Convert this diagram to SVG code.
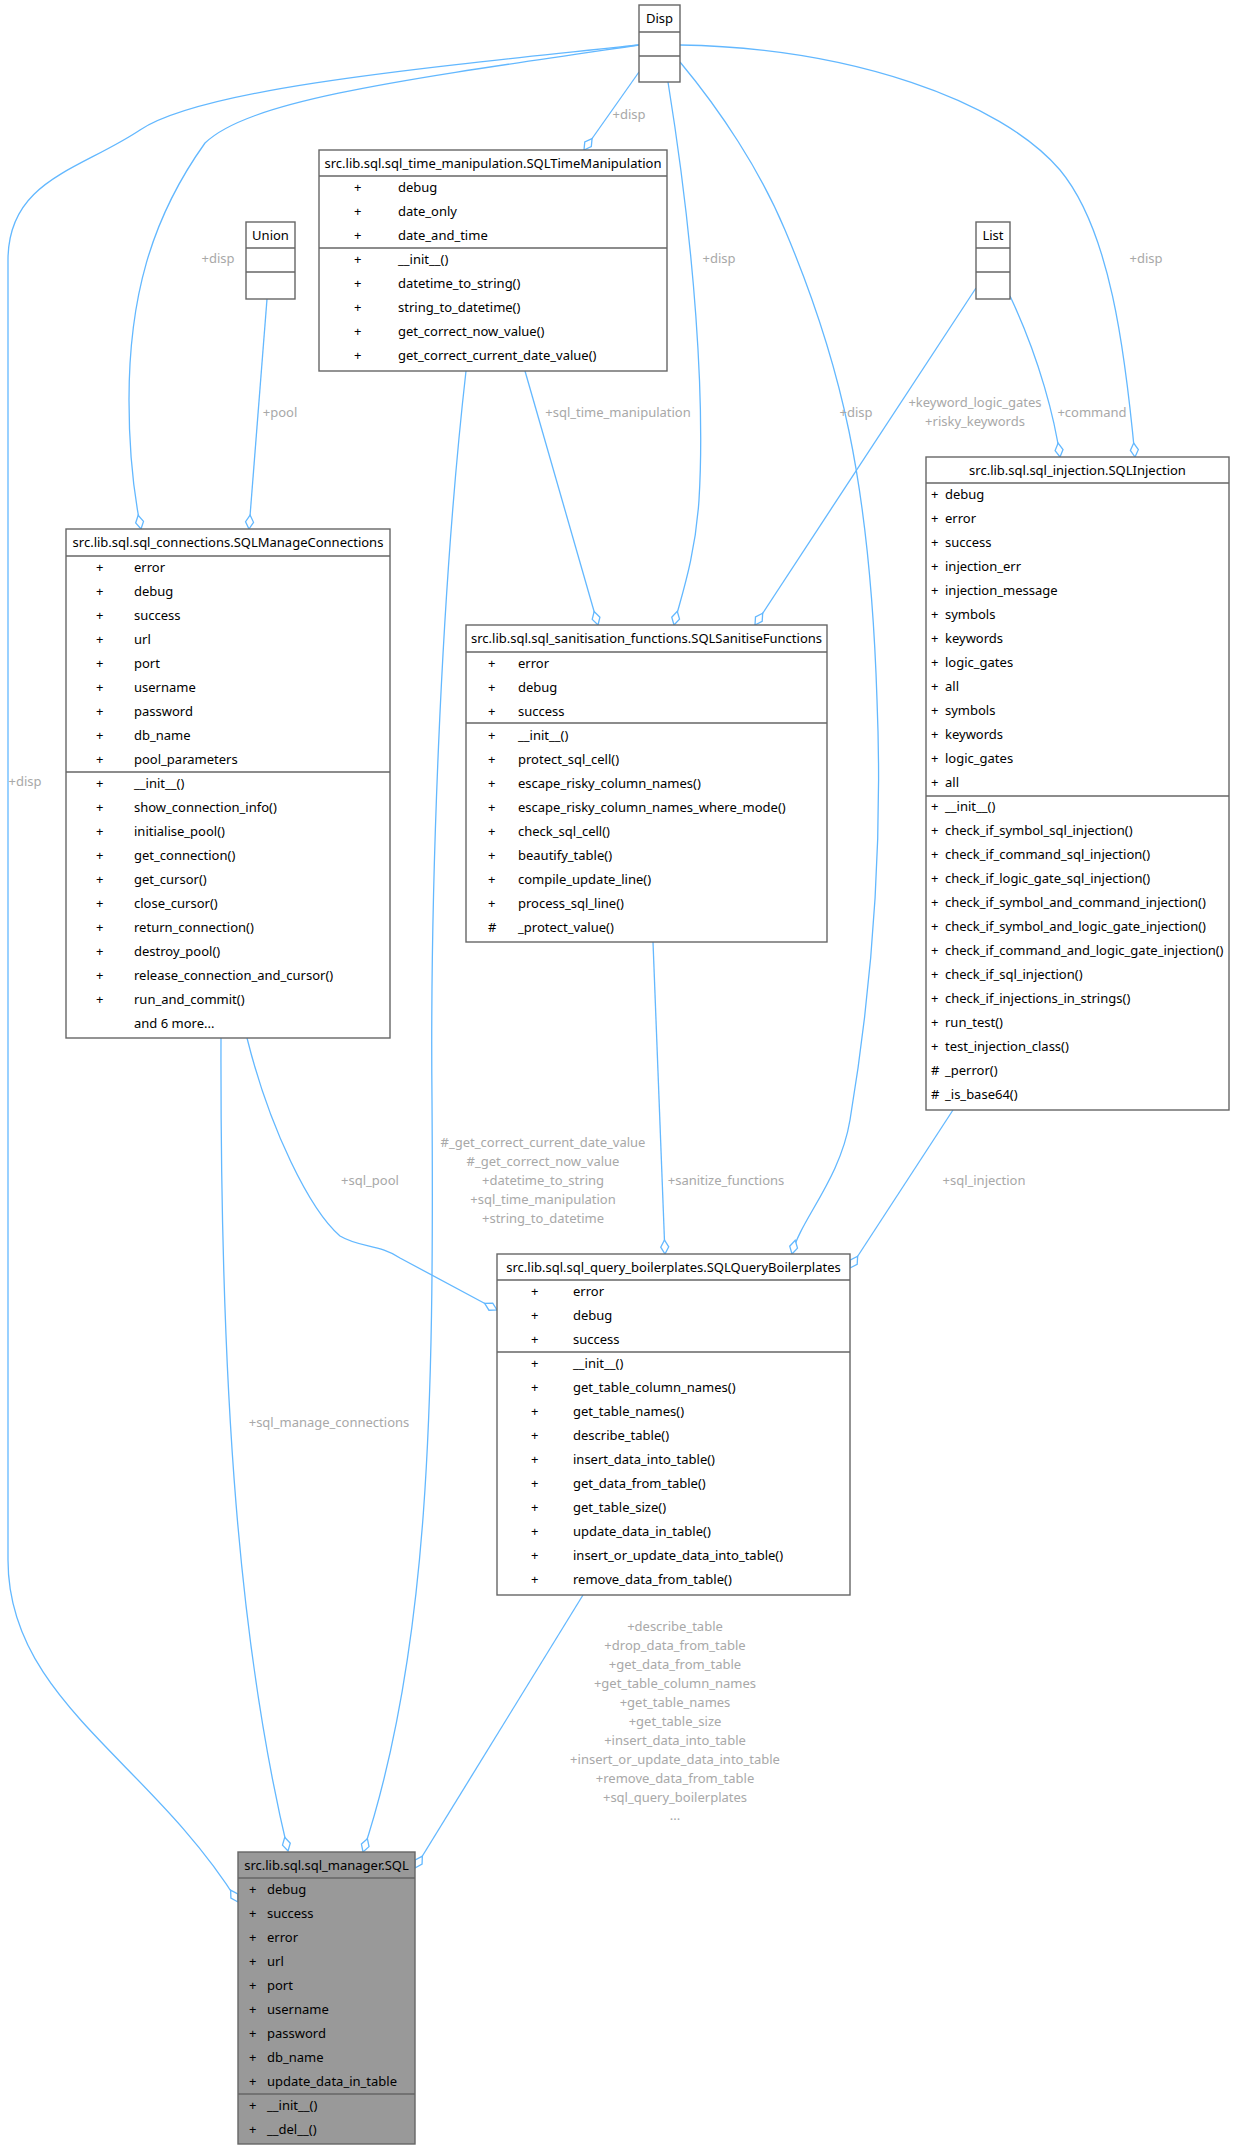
<svg xmlns="http://www.w3.org/2000/svg" width="1234" height="2150" viewBox="0 0 1234 2150">
<style>
.box{fill:#fff;stroke:#666;stroke-width:1.4}
.sql{fill:#999;stroke:#666;stroke-width:1.4}
.sep{stroke:#666;stroke-width:1.4}
text{font-family:"Noto Sans","DejaVu Sans",sans-serif;font-size:13px;fill:#000}
.t{text-anchor:middle}
.e{fill:none;stroke:#63b8ff;stroke-width:1.3;marker-end:url(#dia)}
.l{fill:#a8a8a8;text-anchor:middle}
</style>
<defs>
<marker id="dia" viewBox="-16 -6 17 12" refX="0" refY="0" markerWidth="17" markerHeight="12" markerUnits="userSpaceOnUse" orient="auto">
<path d="M0,0 L-7,-4 L-14,0 L-7,4 Z" fill="#fff" stroke="#63b8ff" stroke-width="1.3"/>
</marker>
</defs>
<rect width="1234" height="2150" fill="#fff"/>
<g id="edges">
<path class="e" d="M639,45 C400,70 200,90 140,130 C80,170 8,180 8,260 L8,1560 C8,1700 150,1760 238,1902"/>
<path class="e" d="M639,45 C400,80 250,100 205,143 C150,220 129,300 129,400 C129,460 135,500 141,529"/>
<path class="e" d="M267,299 L249,529"/>
<path class="e" d="M639,72 L584,150"/>
<path class="e" d="M466,371 C440,600 430,900 432,1100 C434,1400 430,1650 363,1852"/>
<path class="e" d="M525,371 L598,625"/>
<path class="e" d="M668,82 C695,250 705,400 699,500 C695,560 680,600 674,625"/>
<path class="e" d="M976,288 L755,625"/>
<path class="e" d="M680,62 C720,110 760,170 785,230 C840,360 870,480 877,700 C885,900 860,1060 850,1120 C840,1180 800,1220 792,1254"/>
<path class="e" d="M1010,296 C1040,360 1055,420 1060,457"/>
<path class="e" d="M680,45 C850,48 1000,100 1060,170 C1110,230 1125,350 1135,457"/>
<path class="e" d="M247,1038 C270,1130 310,1210 340,1236 C360,1248 380,1244 400,1258 L497,1310"/>
<path class="e" d="M221,1038 C220,1400 240,1650 288,1851"/>
<path class="e" d="M653,942 L665,1254"/>
<path class="e" d="M953,1110 L850,1268"/>
<path class="e" d="M583,1595 L415,1868"/>
<text class="l" x="25" y="786">+disp</text>
<text class="l" x="218" y="263">+disp</text>
<text class="l" x="280" y="417">+pool</text>
<text class="l" x="629" y="119">+disp</text>
<text class="l" x="618" y="417">+sql_time_manipulation</text>
<text class="l" x="719" y="263">+disp</text>
<text class="l" x="975" y="407">+keyword_logic_gates</text>
<text class="l" x="975" y="426">+risky_keywords</text>
<text class="l" x="856" y="417">+disp</text>
<text class="l" x="1092" y="417">+command</text>
<text class="l" x="1146" y="263">+disp</text>
<text class="l" x="543" y="1147">#_get_correct_current_date_value</text>
<text class="l" x="543" y="1166">#_get_correct_now_value</text>
<text class="l" x="543" y="1185">+datetime_to_string</text>
<text class="l" x="543" y="1204">+sql_time_manipulation</text>
<text class="l" x="543" y="1223">+string_to_datetime</text>
<text class="l" x="370" y="1185">+sql_pool</text>
<text class="l" x="329" y="1427">+sql_manage_connections</text>
<text class="l" x="726" y="1185">+sanitize_functions</text>
<text class="l" x="984" y="1185">+sql_injection</text>
<text class="l" x="675" y="1631">+describe_table</text>
<text class="l" x="675" y="1650">+drop_data_from_table</text>
<text class="l" x="675" y="1669">+get_data_from_table</text>
<text class="l" x="675" y="1688">+get_table_column_names</text>
<text class="l" x="675" y="1707">+get_table_names</text>
<text class="l" x="675" y="1726">+get_table_size</text>
<text class="l" x="675" y="1745">+insert_data_into_table</text>
<text class="l" x="675" y="1764">+insert_or_update_data_into_table</text>
<text class="l" x="675" y="1783">+remove_data_from_table</text>
<text class="l" x="675" y="1802">+sql_query_boilerplates</text>
<text class="l" x="675" y="1820">...</text>
</g>
<g id="Disp">
<rect class="box" x="639" y="5" width="41" height="77"/>
<line class="sep" x1="639" y1="32" x2="680" y2="32"/><line class="sep" x1="639" y1="56" x2="680" y2="56"/>
<text class="t" x="659.5" y="23">Disp</text>
</g>
<g id="Union">
<rect class="box" x="246" y="222" width="49" height="77"/>
<line class="sep" x1="246" y1="248" x2="295" y2="248"/><line class="sep" x1="246" y1="272" x2="295" y2="272"/>
<text class="t" x="270.5" y="240">Union</text>
</g>
<g id="List">
<rect class="box" x="976" y="222" width="34" height="77"/>
<line class="sep" x1="976" y1="248" x2="1010" y2="248"/><line class="sep" x1="976" y1="272" x2="1010" y2="272"/>
<text class="t" x="993" y="240">List</text>
</g>
<g id="SQLTimeManipulation">
<rect class="box" x="319" y="150" width="348" height="221"/>
<line class="sep" x1="319" y1="176" x2="667" y2="176"/><line class="sep" x1="319" y1="248" x2="667" y2="248"/>
<text class="t" x="493" y="168">src.lib.sql.sql_time_manipulation.SQLTimeManipulation</text>
<g transform="translate(0,192)">
<text x="354" y="0">+</text><text x="398" y="0">debug</text>
<text x="354" y="24">+</text><text x="398" y="24">date_only</text>
<text x="354" y="48">+</text><text x="398" y="48">date_and_time</text>
<text x="354" y="72">+</text><text x="398" y="72">__init__()</text>
<text x="354" y="96">+</text><text x="398" y="96">datetime_to_string()</text>
<text x="354" y="120">+</text><text x="398" y="120">string_to_datetime()</text>
<text x="354" y="144">+</text><text x="398" y="144">get_correct_now_value()</text>
<text x="354" y="168">+</text><text x="398" y="168">get_correct_current_date_value()</text>
</g>
</g>
<g id="SQLManageConnections">
<rect class="box" x="66" y="529" width="324" height="509"/>
<line class="sep" x1="66" y1="556" x2="390" y2="556"/><line class="sep" x1="66" y1="772" x2="390" y2="772"/>
<text class="t" x="228" y="547">src.lib.sql.sql_connections.SQLManageConnections</text>
<g transform="translate(0,572)">
<text x="96" y="0">+</text><text x="134" y="0">error</text>
<text x="96" y="24">+</text><text x="134" y="24">debug</text>
<text x="96" y="48">+</text><text x="134" y="48">success</text>
<text x="96" y="72">+</text><text x="134" y="72">url</text>
<text x="96" y="96">+</text><text x="134" y="96">port</text>
<text x="96" y="120">+</text><text x="134" y="120">username</text>
<text x="96" y="144">+</text><text x="134" y="144">password</text>
<text x="96" y="168">+</text><text x="134" y="168">db_name</text>
<text x="96" y="192">+</text><text x="134" y="192">pool_parameters</text>
<text x="96" y="216">+</text><text x="134" y="216">__init__()</text>
<text x="96" y="240">+</text><text x="134" y="240">show_connection_info()</text>
<text x="96" y="264">+</text><text x="134" y="264">initialise_pool()</text>
<text x="96" y="288">+</text><text x="134" y="288">get_connection()</text>
<text x="96" y="312">+</text><text x="134" y="312">get_cursor()</text>
<text x="96" y="336">+</text><text x="134" y="336">close_cursor()</text>
<text x="96" y="360">+</text><text x="134" y="360">return_connection()</text>
<text x="96" y="384">+</text><text x="134" y="384">destroy_pool()</text>
<text x="96" y="408">+</text><text x="134" y="408">release_connection_and_cursor()</text>
<text x="96" y="432">+</text><text x="134" y="432">run_and_commit()</text>
<text x="134" y="456">and 6 more...</text>
</g>
</g>
<g id="SQLSanitiseFunctions">
<rect class="box" x="466" y="625" width="361" height="317"/>
<line class="sep" x1="466" y1="652" x2="827" y2="652"/><line class="sep" x1="466" y1="723" x2="827" y2="723"/>
<text class="t" x="646.5" y="643">src.lib.sql.sql_sanitisation_functions.SQLSanitiseFunctions</text>
<g transform="translate(0,668)">
<text x="488" y="0">+</text><text x="518" y="0">error</text>
<text x="488" y="24">+</text><text x="518" y="24">debug</text>
<text x="488" y="48">+</text><text x="518" y="48">success</text>
<text x="488" y="72">+</text><text x="518" y="72">__init__()</text>
<text x="488" y="96">+</text><text x="518" y="96">protect_sql_cell()</text>
<text x="488" y="120">+</text><text x="518" y="120">escape_risky_column_names()</text>
<text x="488" y="144">+</text><text x="518" y="144">escape_risky_column_names_where_mode()</text>
<text x="488" y="168">+</text><text x="518" y="168">check_sql_cell()</text>
<text x="488" y="192">+</text><text x="518" y="192">beautify_table()</text>
<text x="488" y="216">+</text><text x="518" y="216">compile_update_line()</text>
<text x="488" y="240">+</text><text x="518" y="240">process_sql_line()</text>
<text x="488" y="264">#</text><text x="518" y="264">_protect_value()</text>
</g>
</g>
<g id="SQLInjection">
<rect class="box" x="926" y="457" width="303" height="653"/>
<line class="sep" x1="926" y1="483" x2="1229" y2="483"/><line class="sep" x1="926" y1="796" x2="1229" y2="796"/>
<text class="t" x="1077.5" y="475">src.lib.sql.sql_injection.SQLInjection</text>
<g transform="translate(0,499)">
<text x="931" y="0">+</text><text x="945" y="0">debug</text>
<text x="931" y="24">+</text><text x="945" y="24">error</text>
<text x="931" y="48">+</text><text x="945" y="48">success</text>
<text x="931" y="72">+</text><text x="945" y="72">injection_err</text>
<text x="931" y="96">+</text><text x="945" y="96">injection_message</text>
<text x="931" y="120">+</text><text x="945" y="120">symbols</text>
<text x="931" y="144">+</text><text x="945" y="144">keywords</text>
<text x="931" y="168">+</text><text x="945" y="168">logic_gates</text>
<text x="931" y="192">+</text><text x="945" y="192">all</text>
<text x="931" y="216">+</text><text x="945" y="216">symbols</text>
<text x="931" y="240">+</text><text x="945" y="240">keywords</text>
<text x="931" y="264">+</text><text x="945" y="264">logic_gates</text>
<text x="931" y="288">+</text><text x="945" y="288">all</text>
<text x="931" y="312">+</text><text x="945" y="312">__init__()</text>
<text x="931" y="336">+</text><text x="945" y="336">check_if_symbol_sql_injection()</text>
<text x="931" y="360">+</text><text x="945" y="360">check_if_command_sql_injection()</text>
<text x="931" y="384">+</text><text x="945" y="384">check_if_logic_gate_sql_injection()</text>
<text x="931" y="408">+</text><text x="945" y="408">check_if_symbol_and_command_injection()</text>
<text x="931" y="432">+</text><text x="945" y="432">check_if_symbol_and_logic_gate_injection()</text>
<text x="931" y="456">+</text><text x="945" y="456">check_if_command_and_logic_gate_injection()</text>
<text x="931" y="480">+</text><text x="945" y="480">check_if_sql_injection()</text>
<text x="931" y="504">+</text><text x="945" y="504">check_if_injections_in_strings()</text>
<text x="931" y="528">+</text><text x="945" y="528">run_test()</text>
<text x="931" y="552">+</text><text x="945" y="552">test_injection_class()</text>
<text x="931" y="576">#</text><text x="945" y="576">_perror()</text>
<text x="931" y="600">#</text><text x="945" y="600">_is_base64()</text>
</g>
</g>
<g id="SQLQueryBoilerplates">
<rect class="box" x="497" y="1254" width="353" height="341"/>
<line class="sep" x1="497" y1="1280" x2="850" y2="1280"/><line class="sep" x1="497" y1="1352" x2="850" y2="1352"/>
<text class="t" x="673.5" y="1272">src.lib.sql.sql_query_boilerplates.SQLQueryBoilerplates</text>
<g transform="translate(0,1296)">
<text x="531" y="0">+</text><text x="573" y="0">error</text>
<text x="531" y="24">+</text><text x="573" y="24">debug</text>
<text x="531" y="48">+</text><text x="573" y="48">success</text>
<text x="531" y="72">+</text><text x="573" y="72">__init__()</text>
<text x="531" y="96">+</text><text x="573" y="96">get_table_column_names()</text>
<text x="531" y="120">+</text><text x="573" y="120">get_table_names()</text>
<text x="531" y="144">+</text><text x="573" y="144">describe_table()</text>
<text x="531" y="168">+</text><text x="573" y="168">insert_data_into_table()</text>
<text x="531" y="192">+</text><text x="573" y="192">get_data_from_table()</text>
<text x="531" y="216">+</text><text x="573" y="216">get_table_size()</text>
<text x="531" y="240">+</text><text x="573" y="240">update_data_in_table()</text>
<text x="531" y="264">+</text><text x="573" y="264">insert_or_update_data_into_table()</text>
<text x="531" y="288">+</text><text x="573" y="288">remove_data_from_table()</text>
</g>
</g>
<g id="SQL">
<rect class="sql" x="238" y="1852" width="177" height="292"/>
<line class="sep" x1="238" y1="1878" x2="415" y2="1878"/><line class="sep" x1="238" y1="2094" x2="415" y2="2094"/>
<text class="t" x="326.5" y="1870">src.lib.sql.sql_manager.SQL</text>
<g transform="translate(0,1894)">
<text x="249" y="0">+</text><text x="267" y="0">debug</text>
<text x="249" y="24">+</text><text x="267" y="24">success</text>
<text x="249" y="48">+</text><text x="267" y="48">error</text>
<text x="249" y="72">+</text><text x="267" y="72">url</text>
<text x="249" y="96">+</text><text x="267" y="96">port</text>
<text x="249" y="120">+</text><text x="267" y="120">username</text>
<text x="249" y="144">+</text><text x="267" y="144">password</text>
<text x="249" y="168">+</text><text x="267" y="168">db_name</text>
<text x="249" y="192">+</text><text x="267" y="192">update_data_in_table</text>
<text x="249" y="216">+</text><text x="267" y="216">__init__()</text>
<text x="249" y="240">+</text><text x="267" y="240">__del__()</text>
</g>
</g>
</svg>
